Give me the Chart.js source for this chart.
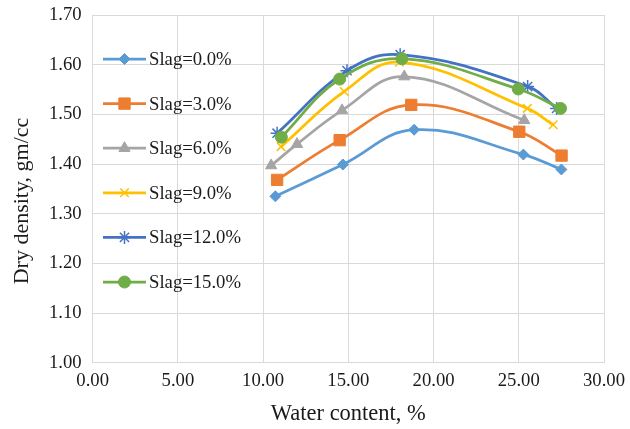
<!DOCTYPE html>
<html>
<head>
<meta charset="utf-8">
<script src="https://cdn.jsdelivr.net/npm/chart.js@4.4.1/dist/chart.umd.min.js"></script>
<style>
  html, body { margin: 0; padding: 0; background: #fff; }
  #chart { display: block; }
</style>
</head>
<body>
<canvas id="chart" width="630" height="429"></canvas>
<script>
// series names
const seriesLabels = ["Slag=0.0%", "Slag=3.0%", "Slag=6.0%", "Slag=9.0%", "Slag=12.0%", "Slag=15.0%"];

// water content (%) per series
const water0  = [10.72, 14.68, 18.86, 25.27, 27.50];
const water3  = [10.82, 14.49, 18.69, 25.03, 27.51];
const water6  = [10.47, 11.99, 14.63, 18.28, 25.32];
const water9  = [11.05, 14.76, 18.00, 25.50, 27.02];
const water12 = [10.82, 14.92, 18.04, 25.52, 27.22];
const water15 = [11.07, 14.49, 18.14, 24.97, 27.45];

// dry density (gm/cc) per series
const density0  = [1.335, 1.399, 1.469, 1.419, 1.389];
const density3  = [1.368, 1.448, 1.519, 1.465, 1.417];
const density6  = [1.397, 1.440, 1.508, 1.576, 1.488];
const density9  = [1.435, 1.546, 1.605, 1.512, 1.479];
const density12 = [1.462, 1.588, 1.620, 1.556, 1.512];
const density15 = [1.454, 1.571, 1.612, 1.551, 1.512];

// axis ticks
const xTicks = [0, 5, 10, 15, 20, 25, 30];
const yTicks = [1.0, 1.1, 1.2, 1.3, 1.4, 1.5, 1.6, 1.7];

const waterSets = [water0, water3, water6, water9, water12, water15];
const densitySets = [density0, density3, density6, density9, density12, density15];

// styling
const colors = ["#5B9BD5", "#ED7D31", "#A5A5A5", "#FFC000", "#4472C4", "#70AD47"];
const markers = ["rectRot", "rect", "triangle", "crossRot", "star", "circle"];
const markerSizes = [5.5, 8, 6.5, 6, 6.5, 6];
const serif = "'Liberation Serif', 'Times New Roman', serif";
const textColor = "#1a1a1a";

const datasets = seriesLabels.map((label, i) => ({
    label: label,
    data: waterSets[i].map((x, j) => ({ x: x, y: densitySets[i][j] })),
    borderColor: colors[i],
    backgroundColor: colors[i],
    borderWidth: 2.75,
    showLine: true,
    tension: 0.4,
    pointStyle: markers[i],
    pointRadius: markerSizes[i],
    pointBorderWidth: (markers[i] === "crossRot" || markers[i] === "star") ? 1.5 : 1,
    pointBorderColor: colors[i],
    pointBackgroundColor: colors[i],
    order: seriesLabels.length - i
}));

// legend drawn inside the plot (no box) + the y title, placed like the original
const insideLegend = {
    id: "insideLegend",
    afterDraw(chart) {
        const ctx = chart.ctx;
        const top = 59;
        const gap = 44.6;
        ctx.save();
        chart.data.datasets.forEach((ds, i) => {
            const y = top + gap * i;
            ctx.strokeStyle = ds.borderColor;
            ctx.lineWidth = 2.75;
            ctx.beginPath();
            ctx.moveTo(103, y);
            ctx.lineTo(146, y);
            ctx.stroke();
            ctx.fillStyle = ds.backgroundColor;
            ctx.lineWidth = ds.pointBorderWidth;
            Chart.helpers.drawPoint(ctx, {
                pointStyle: ds.pointStyle,
                radius: ds.pointRadius,
                rotation: 0,
                borderWidth: ds.pointBorderWidth
            }, 124.5, y);
            ctx.fillStyle = textColor;
            ctx.font = "18.7px " + serif;
            ctx.textAlign = "left";
            ctx.textBaseline = "middle";
            ctx.fillText(ds.label, 149, y + 1);
        });

        // y axis title
        ctx.translate(22, 201);
        ctx.rotate(-Math.PI / 2);
        ctx.fillStyle = textColor;
        ctx.font = "22px " + serif;
        ctx.textAlign = "center";
        ctx.textBaseline = "middle";
        ctx.fillText("Dry density, gm/cc", 0, 0);
        ctx.restore();
    }
};

new Chart(document.getElementById("chart"), {
    type: "scatter",
    data: { datasets: datasets },
    plugins: [insideLegend],
    options: {
        responsive: false,
        animation: false,
        layout: { padding: { top: 15, right: 26, left: 0, bottom: 0 } },
        plugins: {
            legend: { display: false },
            tooltip: { enabled: false }
        },
        scales: {
            x: {
                type: "linear",
                min: 0,
                max: 30,
                afterFit: (scale) => {
                    scale.height = 66.3;
                    scale.paddingLeft = 0;
                    scale.paddingRight = 0;
                },
                afterBuildTicks: (scale) => { scale.ticks = xTicks.map(v => ({ value: v })); },
                grid: { color: "#d9d9d9", lineWidth: 1, drawTicks: false },
                border: { color: "#d9d9d9", width: 1 },
                ticks: {
                    padding: 7,
                    color: textColor,
                    font: { family: serif, size: 18.7 },
                    callback: (v) => Number(v).toFixed(2)
                },
                title: {
                    display: true,
                    text: "Water content, %",
                    color: textColor,
                    font: { family: serif, size: 22.5 },
                    padding: { top: 0, bottom: 1 }
                }
            },
            y: {
                type: "linear",
                min: 1.0,
                max: 1.7,
                afterFit: (scale) => {
                    scale.width = 92.7;
                    scale.paddingTop = 0;
                    scale.paddingBottom = 0;
                },
                afterBuildTicks: (scale) => { scale.ticks = yTicks.map(v => ({ value: v })); },
                grid: { color: "#d9d9d9", lineWidth: 1, drawTicks: false },
                border: { color: "#d9d9d9", width: 1 },
                ticks: {
                    padding: 11,
                    color: textColor,
                    font: { family: serif, size: 18.7 },
                    callback: (v) => Number(v).toFixed(2)
                }
            }
        }
    }
});
</script>
</body>
</html>
